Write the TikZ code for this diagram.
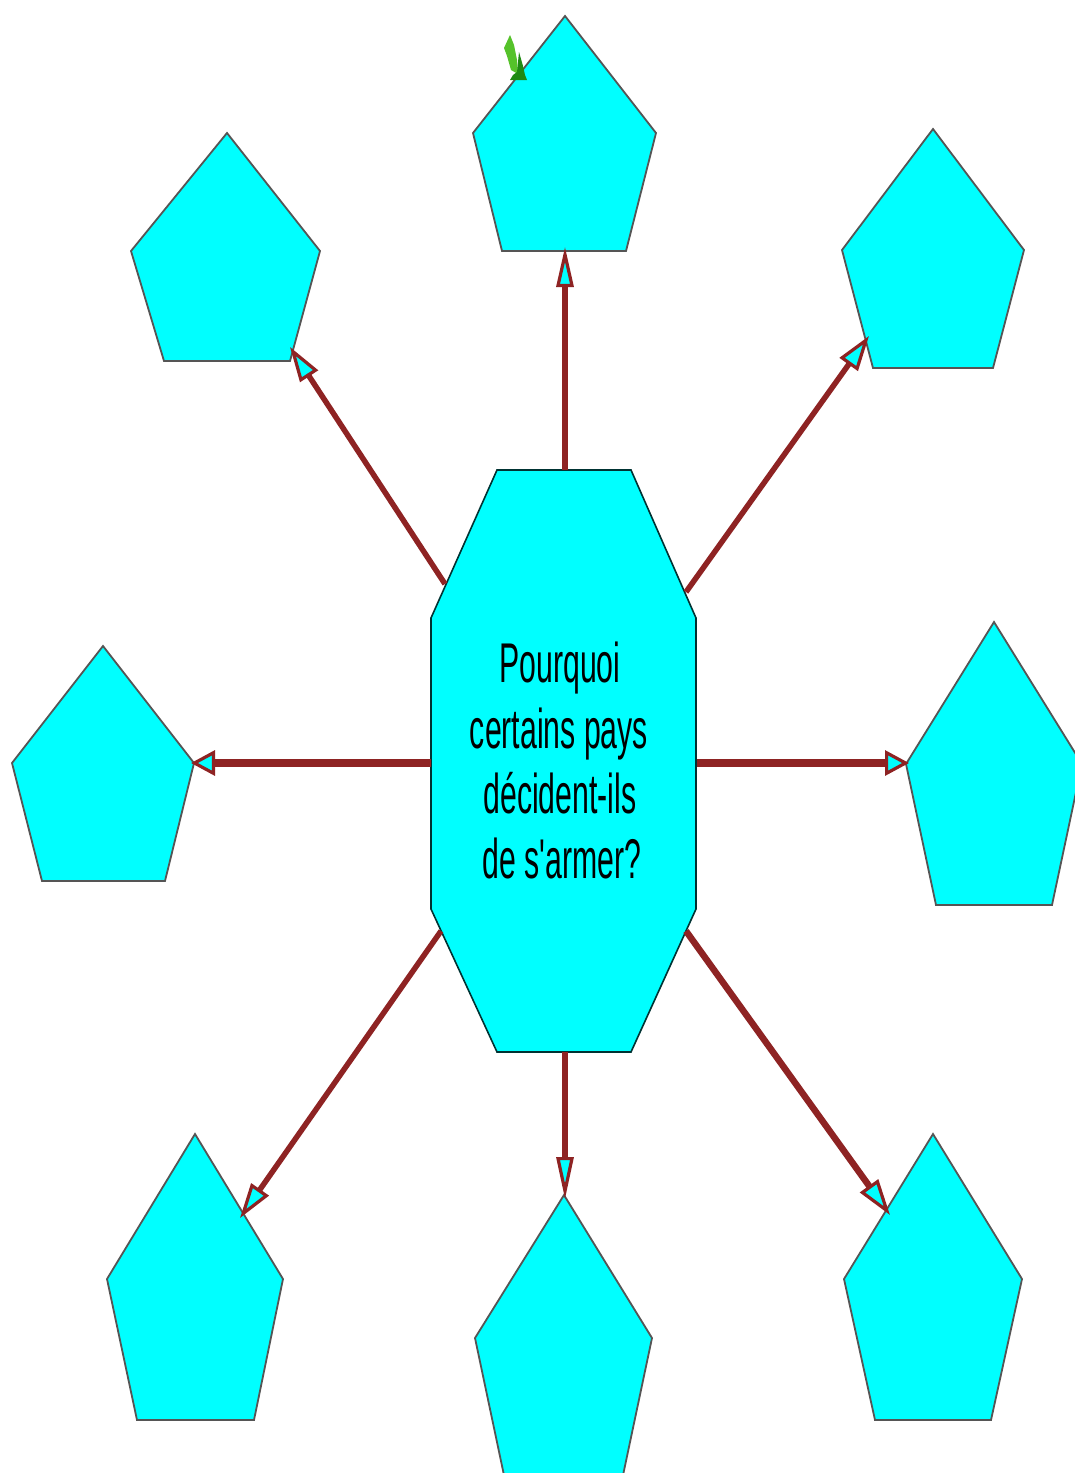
\documentclass[tikz,border=0pt]{standalone}
\usepackage{fontspec}
\usetikzlibrary{arrows.meta}
\newfontfamily\lab[FakeStretch=0.54]{Liberation Sans}
\definecolor{aquaf}{HTML}{00FFFF}
\definecolor{arrowred}{HTML}{8E2323}
\definecolor{edgegray}{HTML}{555555}
\definecolor{leaflight}{HTML}{55C22A}
\definecolor{leafdark}{HTML}{1F8A12}
\tikzset{
  pent/.style={draw=edgegray,fill=aquaf,line width=1.8pt,line join=miter},
  octa/.style={draw=black!80!aquaf,fill=aquaf,line width=1.6pt,line join=miter},
  conn/.style={draw=arrowred,line width=#1},
  conn/.default=5.5pt,
  tipsz/.style 2 args={-{Triangle[length=#1,width=#2,line width=3.2pt,fill=aquaf]}},
  textlab/.style={font=\lab\fontsize{56}{65}\selectfont,text=black,anchor=base,inner sep=0pt}
}
\newcommand{\penta}[6]{%
  \coordinate (#1a) at #2; \coordinate (#1b) at #3; \coordinate (#1c) at #4;
  \coordinate (#1d) at #5; \coordinate (#1e) at #6;
  \path[pent] (#1a) -- (#1b) -- (#1c) -- (#1d) -- (#1e) -- cycle;}
\begin{document}
\begin{tikzpicture}[x=1pt,y=-1pt]
\useasboundingbox (0,0) rectangle (1075,1473);
\clip (0,0) rectangle (1075,1473);
\fill[white] (0,0) rectangle (1075,1473);
% pentagons
\penta{T}{(565,16)}{(656,133)}{(626,251)}{(502,251)}{(473,133)}
\penta{UL}{(227,133)}{(320,251)}{(290,361)}{(164,361)}{(131,251)}
\penta{UR}{(933,129)}{(1024,250)}{(993,368)}{(873,368)}{(842,250)}
\penta{L}{(103,646)}{(194,763)}{(165,881)}{(42,881)}{(12,763)}
\penta{R}{(994,622)}{(1082,764)}{(1052,905)}{(936,905)}{(906,764)}
\penta{BL}{(195,1134)}{(283,1279)}{(254,1420)}{(137,1420)}{(107,1279)}
\penta{B}{(564,1195)}{(652,1338)}{(622,1480)}{(505,1480)}{(475,1338)}
\penta{BR}{(933,1134)}{(1022,1279)}{(991,1420)}{(875,1420)}{(844,1279)}
% octagon
\path[octa] (497,470) -- (631,470) -- (696,618) -- (696,909) -- (631,1052) -- (497,1052) -- (431,909) -- (431,618) -- cycle;
% connector ends
\coordinate (oT) at (565,470);
\coordinate (oUL) at (445,584);
\coordinate (oUR) at (686,592);
\coordinate (oL) at (431,763);
\coordinate (oR) at (697,763);
\coordinate (oBL) at (441,931);
\coordinate (oB) at (565,1052);
\coordinate (oBR) at (686,931);
\coordinate (eT) at (565,247);
\coordinate (eUL) at (290,347);
\coordinate (eUR) at (869,336);
\coordinate (eL) at (191,763);
\coordinate (eR) at (909,763);
\coordinate (eBL) at (240,1218);
\coordinate (eB) at (565,1199);
\coordinate (eBR) at (890,1215);
% connectors
\draw[conn,tipsz={40pt}{17pt}] (oT) -- (eT);
\draw[conn,tipsz={35pt}{21pt}] (oUL) -- (eUL);
\draw[conn,tipsz={35pt}{22pt}] (oUR) -- (eUR);
\draw[conn=8pt,tipsz={24pt}{25pt}] (oL) -- (eL);
\draw[conn=8pt,tipsz={24pt}{25pt}] (oR) -- (eR);
\draw[conn,tipsz={35pt}{21pt}] (oBL) -- (eBL);
\draw[conn,tipsz={42pt}{17pt}] (oB) -- (eB);
\draw[conn=6.5pt,tipsz={36pt}{22pt}] (oBR) -- (eBR);
% label
\node[textlab] (l1) at (560,682) {Pourquoi};
\node[textlab] (l2) at (559,748) {certains pays};
\node[textlab] (l3) at (560,813) {décident-ils};
\node[textlab] (l4) at (562,878) {de s'armer?};
% small green mark
\fill[leaflight] (510,35) -- (504,48) -- (507,56) -- (511,70) -- (518,74) -- (517,60) -- (514,45) -- cycle;
\fill[leafdark] (519,52) -- (523,66) -- (525,75) -- (527,80) -- (510,80) -- (513,75) -- (517,72) -- cycle;
\end{tikzpicture}
\end{document}
